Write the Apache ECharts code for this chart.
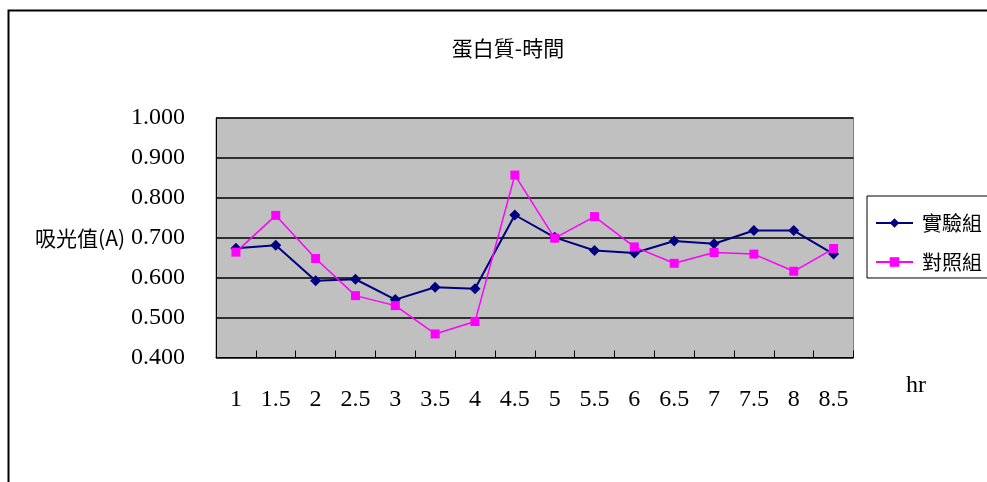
<!DOCTYPE html>
<html>
<head>
<meta charset="utf-8">
<script src="https://cdn.jsdelivr.net/npm/echarts@6/dist/echarts.min.js"></script>
<style>
  html, body { margin: 0; padding: 0; background: #fff; }
  #chart { width: 987px; height: 482px; }
</style>
</head>
<body>
<div id="chart"></div>
<script>
// Protein absorbance over time: experimental vs. control group
const hours = ['1', '1.5', '2', '2.5', '3', '3.5', '4', '4.5', '5', '5.5', '6', '6.5', '7', '7.5', '8', '8.5'];
const experimental = [0.674, 0.681, 0.592, 0.596, 0.545, 0.576, 0.572, 0.757, 0.701, 0.668, 0.662, 0.692, 0.685, 0.718, 0.718, 0.659];
const control = [0.664, 0.756, 0.648, 0.555, 0.530, 0.459, 0.490, 0.857, 0.699, 0.753, 0.677, 0.636, 0.663, 0.659, 0.616, 0.673];
const seriesNames = ['實驗組', '對照組'];
const xUnit = 'hr';

const cjk = '"Noto Sans CJK TC", "Noto Sans CJK SC", sans-serif';
const num = '"Liberation Serif", "DejaVu Serif", serif';

const chart = echarts.init(document.getElementById('chart'), null, { renderer: 'canvas' });
chart.setOption({
  animation: false,
  backgroundColor: '#ffffff',
  title: {
    text: '蛋白質-時間',
    left: 503,
    top: 33,
    textAlign: 'center',
    textStyle: { fontFamily: cjk, fontSize: 21, fontWeight: 'normal', color: '#000' }
  },
  graphic: [
    {
      // outer chart frame, running off the right and bottom edges
      type: 'rect',
      shape: { x: 8.5, y: 10.5, width: 1200, height: 800 },
      style: { fill: 'none', stroke: '#000', lineWidth: 2 },
      silent: true
    },
    {
      // unit label under the right end of the category axis
      type: 'text',
      left: 906,
      top: 374,
      style: { text: xUnit, fontFamily: num, fontSize: 24, fill: '#000' },
      silent: true
    }
  ],
  legend: {
    orient: 'vertical',
    left: 867,
    top: 196,
    padding: [17, 40, 6, 8],
    itemGap: 19,
    itemWidth: 37,
    itemHeight: 12,
    borderColor: '#000',
    borderWidth: 1,
    textStyle: { fontFamily: cjk, fontSize: 20, color: '#000', padding: [0, 0, 0, 4] },
    data: seriesNames
  },
  grid: {
    left: 216,
    top: 118,
    width: 637.5,
    height: 239.5,
    show: true,
    backgroundColor: '#c0c0c0',
    borderColor: '#808080',
    borderWidth: 1
  },
  xAxis: {
    type: 'category',
    data: hours,
    boundaryGap: true,
    axisLine: { lineStyle: { color: '#000', width: 1 } },
    axisTick: { show: true, inside: true, length: 7, lineStyle: { color: '#000' } },
    axisLabel: { fontFamily: num, fontSize: 24, color: '#000', margin: 30 },
    splitLine: { show: false }
  },
  yAxis: {
    type: 'value',
    min: 0.4,
    max: 1.0,
    interval: 0.1,
    name: '吸光值(A)',
    nameLocation: 'middle',
    nameRotate: 0,
    nameGap: 91,
    nameTextStyle: { fontFamily: cjk, fontSize: 21, color: '#000', align: 'right' },
    axisLine: { show: true, lineStyle: { color: '#000', width: 1 } },
    axisTick: { show: false },
    axisLabel: {
      fontFamily: num, fontSize: 24, color: '#000', margin: 31,
      formatter: v => v.toFixed(3)
    },
    splitLine: { show: true, lineStyle: { color: '#000', width: 1.5 } }
  },
  series: [
    {
      name: seriesNames[0],
      type: 'line',
      data: experimental,
      symbol: 'diamond',
      symbolSize: 11,
      color: '#000080',
      lineStyle: { color: '#000080', width: 2 },
      itemStyle: { color: '#000080' },
      z: 3
    },
    {
      name: seriesNames[1],
      type: 'line',
      data: control,
      symbol: 'rect',
      symbolSize: 9,
      color: '#ff00ff',
      lineStyle: { color: '#ff00ff', width: 1.5 },
      itemStyle: { color: '#ff00ff' },
      z: 4
    }
  ]
});
</script>
</body>
</html>
